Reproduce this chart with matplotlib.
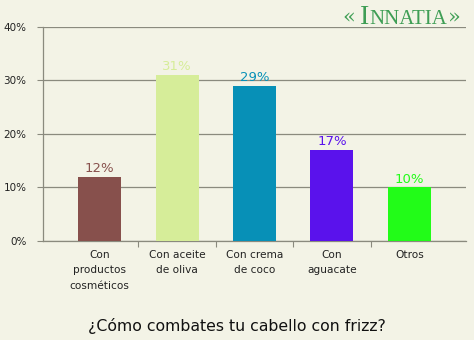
import matplotlib.pyplot as plt
import numpy as np

categories = ["Con\nproductos\ncosméticos", "Con aceite\nde oliva", "Con crema\nde coco",
              "Con\naguacate", "Otros"]
values = [12, 31, 29, 17, 10]
colors = ["#87504c", "#d6ed99", "#0790b7", "#5a12ec", "#22fc18"]
yticks = [0, 10, 20, 30, 40]

bg = "#f3f3e6"
axis_gray = "#8a8a7e"

fig = plt.figure(figsize=(4.74, 3.40), dpi=100, facecolor=bg)
ax = fig.add_axes([0.0907, 0.291, 0.8925, 0.631], facecolor=bg)

x = np.arange(len(categories))
ax.bar(x, values, width=0.555, color=colors, zorder=3)

for xi, v, c in zip(x, values, colors):
    ax.text(xi, v + 0.3, f"{v}%", ha="center", va="bottom", color=c, fontsize=9.5, zorder=4)

ax.set_xlim(-0.73, len(categories) - 1 + 0.73)
ax.set_ylim(0, 40)
ax.set_yticks(yticks)
ax.set_yticklabels([f"{t}%" for t in yticks], fontsize=7.5, color="#222222")
ax.yaxis.grid(True, color=axis_gray, linewidth=0.9, zorder=0)
ax.tick_params(axis="y", length=4, color=axis_gray, pad=8)

# category separators as ticks below the baseline
ax.set_xticks(np.arange(0.5, len(categories) - 1, 1))
ax.set_xticklabels([])
ax.tick_params(axis="x", length=4, color=axis_gray, direction="out")
for xi, lab in zip(x, categories):
    ax.text(xi, -1.7, lab, ha="center", va="top", fontsize=7.6, color="#222222",
            linespacing=1.65)

for side in ["top", "right"]:
    ax.spines[side].set_visible(False)
for side in ["left", "bottom"]:
    ax.spines[side].set_color(axis_gray)
    ax.spines[side].set_linewidth(0.9)

fig.text(0.5, 0.042, "¿Cómo combates tu cabello con frizz?", ha="center", va="center",
         fontsize=11.3, color="#111111")

# brand mark in the top right corner
logo_green = "#3f9e55"
fig.text(0.722, 0.93, "«", ha="left", va="baseline", fontsize=15,
         family="DejaVu Serif", color=logo_green)
fig.text(0.760, 0.93, "I", ha="left", va="baseline", fontsize=20,
         family="Liberation Serif", color=logo_green)
fig.text(0.779, 0.93, "NNATIA", ha="left", va="baseline", fontsize=15,
         family="Liberation Serif", color=logo_green)
fig.text(0.946, 0.93, "»", ha="left", va="baseline", fontsize=15,
         family="DejaVu Serif", color=logo_green)

fig.savefig("out.png", dpi=100, facecolor=bg)
